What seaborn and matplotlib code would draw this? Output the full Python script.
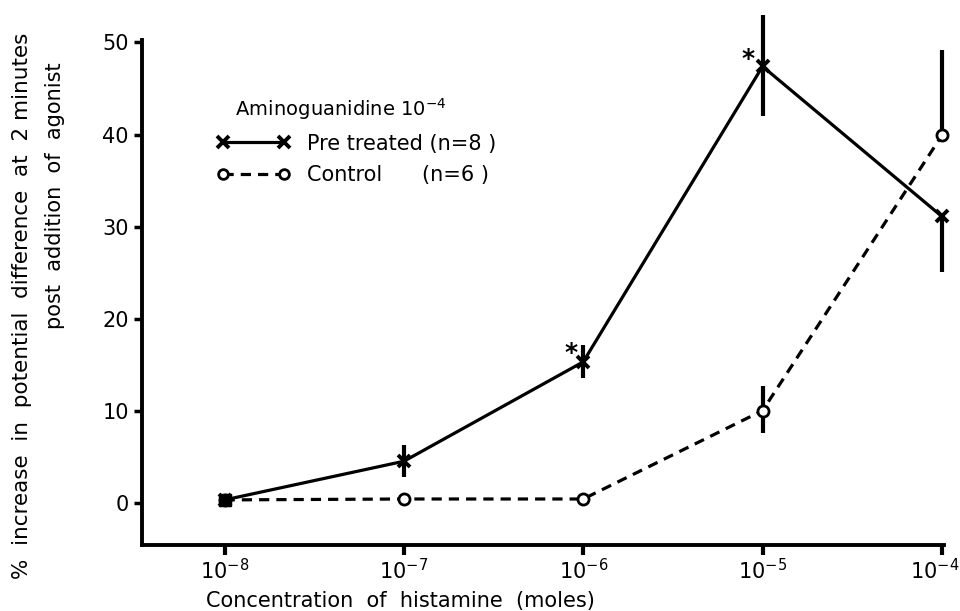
import matplotlib
matplotlib.use('Agg')
import matplotlib.pyplot as plt
import matplotlib.transforms as mtransforms
import seaborn as sns
import numpy as np
import pandas as pd
from matplotlib.lines import Line2D

# Данные
conc = [1e-8, 1e-7, 1e-6, 1e-5, 1e-4]
tick_labels = ['$10^{-8}$', '$10^{-7}$', '$10^{-6}$', '$10^{-5}$', '$10^{-4}$']

pre_mean = [0.3, 4.5, 15.3, 47.4, 31.1]
pre_err_lo = [0.0, 1.7, 1.8, 5.4, 6.0]
pre_err_hi = [0.0, 1.8, 1.8, 5.6, 0.0]

ctrl_mean = [0.3, 0.4, 0.4, 10.0, 39.9]
ctrl_err_lo = [0.0, 0.0, 0.0, 2.4, 0.0]
ctrl_err_hi = [0.0, 0.0, 0.0, 2.7, 9.3]

# звёздочки значимости
star_x = [10 ** -6.07, 10 ** -5.08]
star_y = [16.3, 48.2]

df = pd.DataFrame({
    'conc': conc * 2,
    'value': pre_mean + ctrl_mean,
    'group': ['Pre treated (n=8 )'] * 5 + ['Control      (n=6 )'] * 5,
})

sns.set_style('ticks')
plt.rcParams['font.family'] = ['DejaVu Sans']
plt.rcParams['text.color'] = 'black'
plt.rcParams['xtick.color'] = 'black'
plt.rcParams['ytick.color'] = 'black'
plt.rcParams['axes.edgecolor'] = 'black'

fig = plt.figure(figsize=(9.6, 6.11), dpi=100)
ax = fig.add_axes([0.148, 0.108, 0.835, 0.827])

sns.lineplot(data=df, x='conc', y='value', hue='group', style='group',
             palette=['black', 'black'], dashes=[(1, 0), (3.2, 2.2)],
             linewidth=2.3, ax=ax, legend=False)

ax.errorbar(conc, pre_mean, yerr=[pre_err_lo, pre_err_hi], fmt='none',
            ecolor='black', elinewidth=3, capsize=0, clip_on=False)
ax.errorbar(conc, ctrl_mean, yerr=[ctrl_err_lo, ctrl_err_hi], fmt='none',
            ecolor='black', elinewidth=3, capsize=0, clip_on=False)

ax.plot(conc, ctrl_mean, linestyle='none', marker='o', markersize=8,
        markerfacecolor='white', markeredgecolor='black', markeredgewidth=2,
        clip_on=False, zorder=5)
ax.plot(conc, pre_mean, linestyle='none', marker='x', markersize=9,
        markeredgecolor='black', markeredgewidth=2.8, clip_on=False, zorder=6)
ax.plot(conc[:1], pre_mean[:1], linestyle='none', marker='s', markersize=9,
        color='black', zorder=7)

for sx, sy in zip(star_x, star_y):
    ax.text(sx, sy, '*', fontsize=18, fontweight='bold', ha='center', va='center')

ax.set_xscale('log')
ax.set_xlim(10 ** -8.46, 10 ** -3.99)
ax.set_ylim(-4.6, 50.3)
ax.set_xticks(conc)
ax.set_xticklabels(tick_labels, fontsize=15)
ax.minorticks_off()
ax.set_yticks([0, 10, 20, 30, 40, 50])
ax.tick_params(axis='y', labelsize=15, width=2.5, length=6, direction='out')
ax.tick_params(axis='x', width=3, length=7, direction='out', pad=2)
# последнюю подпись чуть левее, чтобы не обрезалась
last = ax.get_xticklabels()[-1]
last.set_transform(last.get_transform() +
                   mtransforms.ScaledTranslation(-7 / 100, 0, fig.dpi_scale_trans))

sns.despine(ax=ax)
for sp in ['left', 'bottom']:
    ax.spines[sp].set_linewidth(2.8)

ax.set_xlabel('')
ax.set_ylabel('')
fig.text(0.417, 0.0, 'Concentration  of  histamine  (moles)', fontsize=15,
         ha='center', va='bottom')
fig.text(0.023, 0.50, '%  increase  in  potential  difference  at  2 minutes',
         fontsize=15.5, rotation=90, ha='center', va='center')
fig.text(0.057, 0.68, 'post  addition  of  agonist', fontsize=15,
         rotation=90, ha='center', va='center')

# легенда как в оригинале
handles = [
    Line2D([], [], color='black', linewidth=2.3, marker='x', markersize=8,
           markeredgewidth=2.8),
    Line2D([], [], color='black', linewidth=2.3, linestyle=(0, (3.2, 2.2)),
           marker='o', markersize=7, markerfacecolor='white',
           markeredgewidth=2),
]
leg = ax.legend(handles, ['Pre treated (n=8 )', 'Control      (n=6 )'],
                title='   Aminoguanidine $10^{-4}$', numpoints=2, frameon=False,
                loc='upper left', bbox_to_anchor=(0.07, 0.925), fontsize=15,
                title_fontsize=14, handlelength=3.5, handletextpad=0.8,
                labelspacing=0.55)
leg._legend_box.align = 'left'

fig.savefig('out.png', dpi=100)
